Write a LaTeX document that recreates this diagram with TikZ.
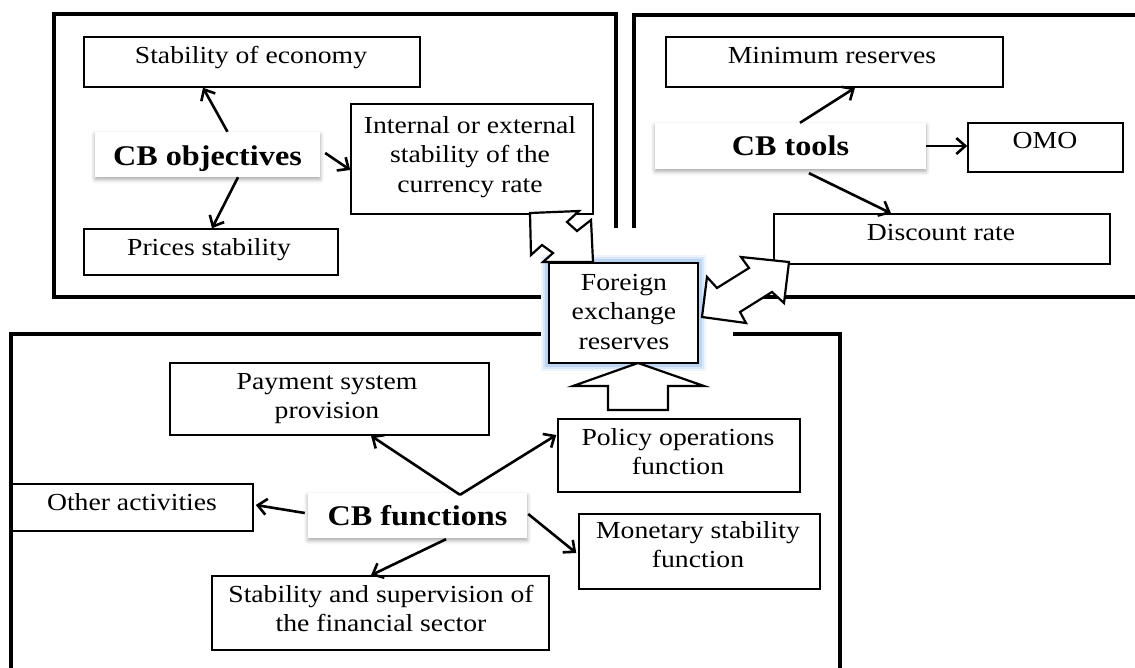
\documentclass[tikz,border=0pt]{standalone}
\usepackage{fontspec}
\setmainfont{Liberation Serif}[FakeStretch=1.13]
\usetikzlibrary{arrows.meta,shadows.blur,backgrounds}
\definecolor{glowc}{RGB}{120,170,230}
\newcommand\lnstrut{\rule{0pt}{20pt}}
\tikzset{
  frame/.style={line width=3.1pt, line join=miter},
  box/.style={draw, line width=1.5pt, fill=white, inner sep=0pt},
  txt/.style={inner sep=0pt, align=center, anchor=north,
              font=\fontsize{24.5}{29.5}\selectfont},
  cb/.style={fill=white, inner sep=0pt,
             font=\fontsize{28.5}{30}\selectfont\bfseries,
             blur shadow={shadow xshift=0pt, shadow yshift=-2.5pt,
                          shadow blur radius=4pt, shadow opacity=35}},
  conn/.style={line width=2.6pt, -{Straight Barb[length=9pt,width=16pt]}},
  block/.style={draw, fill=white, line width=2.2pt, line join=miter},
}
\begin{document}
\begin{tikzpicture}[x=1pt,y=-1pt]
\useasboundingbox (0,0) rectangle (1135,667);

% group frames
\draw[frame] (541,297) -- (54,297) -- (54,14) -- (616,14) -- (616,228);
\draw[frame] (634,228) -- (634,15) -- (1140,15);
\draw[frame] (760,297) -- (1140,297);
\draw[frame] (541,334) -- (11,334) -- (11,672);
\draw[frame] (733,334) -- (840,334) -- (840,672);

% objectives
\node[box, minimum width=336, minimum height=50] (soe) at (252,62) {};
\node[txt] (soe-t) at (251,43) {\lnstrut Stability of economy};
\node[box, minimum width=242, minimum height=110] (cur) at (472,159) {};
\node[txt] (cur-t) at (470,113) {\lnstrut Internal or external\\stability of the\\currency rate};
\node[box, minimum width=254, minimum height=46] (prs) at (211,252) {};
\node[txt] (prs-t) at (209,235) {\lnstrut Prices stability};
\node[cb, minimum width=225, minimum height=45, text height=25pt, text depth=4pt]
  (cbo) at (207.5,154.5) {CB objectives};

\draw[conn] ([xshift=20pt]cbo.north) -- ([xshift=-49pt]soe.south);
\draw[conn] ([xshift=30.5pt]cbo.south) -- ([xshift=1pt]prs.north);
\draw[conn] ([xshift=5pt,yshift=1.5pt]cbo.east) -- ([yshift=-11pt]cur.west);

% tools
\node[box, minimum width=337, minimum height=50] (mnr) at (834.5,62) {};
\node[txt] (mnr-t) at (832,43) {\lnstrut Minimum reserves};
\node[box, minimum width=155, minimum height=49] (omo) at (1045.5,147.5) {};
\node[txt] (omo-t) at (1045,128) {\lnstrut OMO};
\node[box, minimum width=336, minimum height=50] (dsc) at (942,239) {};
\node[txt] (dsc-t) at (941,220) {\lnstrut Discount rate};
\node[cb, minimum width=271, minimum height=46, text height=22pt, text depth=4pt]
  (cbt) at (790.5,146) {CB tools};

\draw[conn] ([xshift=9.5pt]cbt.north) -- ([xshift=20.5pt]mnr.south);
\draw[conn] (cbt.east) -- (cbt.east -| omo.west);
\draw[conn] ([xshift=18.5pt,yshift=-4pt]cbt.south) -- ([xshift=-51pt]dsc.north);

% functions
\node[box, minimum width=319, minimum height=72] (pay) at (329.5,399) {};
\node[txt] (pay-t) at (327,369) {\lnstrut Payment system\\provision};
\node[box, minimum width=242, minimum height=73] (pol) at (679,455.5) {};
\node[txt] (pol-t) at (678,425) {\lnstrut Policy operations\\function};
\node[box, minimum width=241, minimum height=47] (oth) at (132.5,507.5) {};
\node[txt] (oth-t) at (132,490) {\lnstrut Other activities};
\node[box, minimum width=241, minimum height=75] (mon) at (699.5,551.5) {};
\node[txt] (mon-t) at (698,518) {\lnstrut Monetary stability\\function};
\node[box, minimum width=337, minimum height=74] (sup) at (380.5,613) {};
\node[txt] (sup-t) at (381,582) {\lnstrut Stability and supervision of\\the financial sector};
\node[cb, minimum width=219, minimum height=45, text height=23pt, text depth=4pt]
  (cbf) at (417.5,515.5) {CB functions};

\draw[conn] ([xshift=42.5pt,yshift=-2pt]cbf.north) -- ([xshift=41.5pt]pay.south);
\draw[conn] ([xshift=42.5pt,yshift=-2pt]cbf.north) -- ([xshift=-1pt,yshift=20.5pt]pol.west);
\draw[conn] ([xshift=-3pt,yshift=2.5pt]cbf.west) -- ([xshift=2pt,yshift=2.5pt]oth.east);
\draw[conn] ([xshift=1pt,yshift=1.5pt]cbf.east) -- ([xshift=-2pt,yshift=-1.5pt]mon.west);
\draw[conn] ([xshift=28.5pt,yshift=-1pt]cbf.south) -- ([xshift=-9.5pt]sup.north);

% foreign exchange reserves
\node[box, minimum width=149, minimum height=100] (fx) at (623.5,313) {};
\node[txt] (fx-t) at (624,270) {\lnstrut Foreign\\exchange\\reserves};
\begin{scope}[on background layer]
  \foreach \w/\o in {14/0.12, 10/0.18, 6/0.3}
    \draw[glowc, line width=\w pt, opacity=\o] (fx.north west) rectangle (fx.south east);
\end{scope}

% block arrows
\draw[block] (530,213) -- (579,211) -- (567,222) -- (577,231) -- (591,220)
  -- (593,262) -- (543,262) -- (553,253) -- (542,245) -- (531,255) -- cycle;
\draw[block] (702,317) -- (707,277) -- (717,288) -- (749,268) -- (741,257)
  -- (789,262) -- (784,303) -- (772,292) -- (740,312) -- (746,323) -- cycle;
\draw[block] (638,363) -- (704,386) -- (668,386) -- (668,410) -- (608,410)
  -- (608,386) -- (573,386) -- cycle;
\end{tikzpicture}
\end{document}
